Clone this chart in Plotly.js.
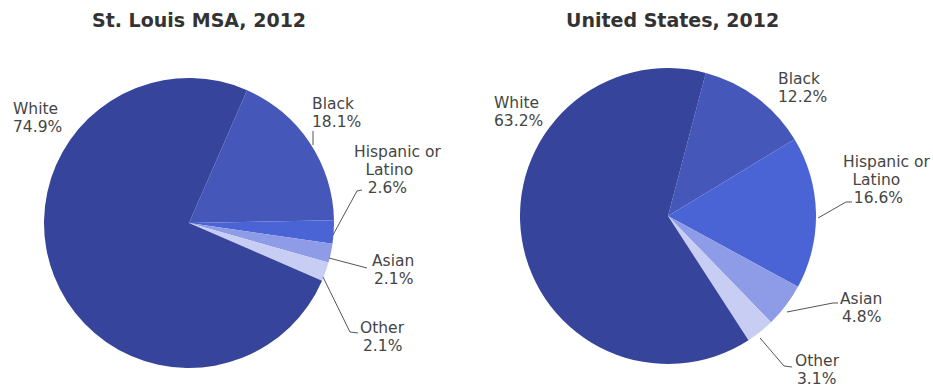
<!DOCTYPE html>
<html><head><meta charset="utf-8">
<script src="https://cdn.plot.ly/plotly-3.0.1.min.js"></script>
<style>html,body{margin:0;padding:0;background:#fff}</style>
</head><body><div id="chart" style="width:933px;height:389px"></div>
<script>
// ---- data ----
const categories = ['White', 'Black', 'Hispanic or Latino', 'Asian', 'Other'];
const stlValues = [74.9, 18.1, 2.6, 2.1, 2.1];
const usValues = [63.2, 12.2, 16.6, 4.8, 3.1];
const chartTitles = ['St. Louis MSA, 2012', 'United States, 2012'];

// ---- style / layout ----
const W = 933, H = 389;
const FONT_PX = 15.5;
const LINE_GAP = 18.1;     // px between label lines (tight leading)
const REF_GAP = 16;        // leading of the original labels
const sliceColors = ['#36459b', '#4557b9', '#4b64d5', '#8e9be6', '#c8cdf4'];
const drawOrder = [1, 2, 3, 4, 0]; // Black first, clockwise, White last
const pies = [
  {cx: 189, cy: 223, r: 145, rotation: 23.6, titleX: 199, values: stlValues},
  {cx: 668, cy: 216, r: 148, rotation: 14.8, titleX: 672, values: usValues}
];
// label placement per pie, per category (pixel x of each line, cap-top of first line)
const labelPos = [
  [ {xs: [12, 12], anchor: 'left', top: 103},
    {xs: [311, 311], anchor: 'left', top: 98},
    {xs: [397, 389, 387], anchor: 'center', top: 147},
    {xs: [371, 373], anchor: 'left', top: 255},
    {xs: [359, 362], anchor: 'left', top: 322} ],
  [ {xs: [493, 493], anchor: 'left', top: 97},
    {xs: [777, 777], anchor: 'left', top: 73},
    {xs: [886, 876, 878], anchor: 'center', top: 157},
    {xs: [839, 841], anchor: 'left', top: 293},
    {xs: [794, 796], anchor: 'left', top: 355} ]
];
const leaderPaths = [
  'M313,131 L313,145',
  'M362,190 L357,191 L333,235',
  'M329,258 L367,268',
  'M323,277 L350,332 L358,333',
  'M852,202 L846,202 L818,218',
  'M787,312 L833,303 L838,303',
  'M760,338 L784,366 L792,367'
];

const px = x => x / W;
const py = y => 1 - y / H;

function labelLines(name, value) {
  const nameLines = name === 'Hispanic or Latino' ? ['Hispanic or', 'Latino'] : [name];
  return nameLines.concat([value.toFixed(1) + '%']);
}

const traces = pies.map(p => ({
  type: 'pie',
  labels: drawOrder.map(i => categories[i]),
  values: drawOrder.map(i => p.values[i]),
  marker: {colors: drawOrder.map(i => sliceColors[i]), line: {width: 0}},
  sort: false,
  direction: 'clockwise',
  rotation: p.rotation,
  textinfo: 'none',
  hoverinfo: 'label+percent',
  showlegend: false,
  domain: {
    x: [px(p.cx - p.r), px(p.cx + p.r)],
    y: [py(p.cy + p.r), py(p.cy - p.r)]
  }
}));

const annotations = [];
const lineTweaks = []; // per annotation: x offsets of the lines of a label
const labelFont = {family: 'DejaVu Sans', size: FONT_PX, color: '#454545'};
pies.forEach((p, pi) => {
  annotations.push({
    text: '<b>' + chartTitles[pi] + '</b>',
    xref: 'paper', yref: 'paper', x: px(p.titleX), y: py(8),
    xanchor: 'center', yanchor: 'top', showarrow: false, borderpad: 0,
    font: {family: 'DejaVu Sans', size: 19, color: '#333333'}
  });
  lineTweaks.push(null);
  categories.forEach((c, ci) => {
    const pos = labelPos[pi][ci];
    const lines = labelLines(c, p.values[ci]);
    const centerShift = (LINE_GAP - REF_GAP) * (lines.length - 1) / 2;
    annotations.push({
      text: lines.join('<br>'), xref: 'paper', yref: 'paper',
      x: px(pos.xs[0]), y: py(pos.top - 3 - centerShift),
      xanchor: pos.anchor, yanchor: 'top', align: pos.anchor,
      showarrow: false, borderpad: 0, font: labelFont
    });
    lineTweaks.push({xs: pos.xs});
  });
});

function toPaperPath(d) {
  return d.replace(/(-?\d+(?:\.\d+)?),(-?\d+(?:\.\d+)?)/g,
    (m, x, y) => px(+x).toFixed(5) + ',' + py(+y).toFixed(5));
}
const shapes = leaderPaths.map(d => ({
  type: 'path', xref: 'paper', yref: 'paper', path: toPaperPath(d),
  line: {color: '#555555', width: 1}
}));

const layout = {
  width: W, height: H,
  margin: {l: 0, r: 0, t: 0, b: 0},
  paper_bgcolor: '#ffffff',
  showlegend: false,
  annotations: annotations,
  shapes: shapes
};

Plotly.newPlot('chart', traces, layout, {displayModeBar: false, staticPlot: true}).then(gd => {
  // tighten the leading of the multi-line labels and nudge individual lines
  gd.querySelectorAll('g.annotation').forEach(g => {
    const idx = +g.getAttribute('data-index');
    const tw = lineTweaks[idx];
    if (!tw) return;
    g.querySelectorAll('text.annotation-text tspan.line').forEach((t, li) => {
      t.setAttribute('dy', (li * LINE_GAP / FONT_PX) + 'em');
      const shift = (tw.xs[li] !== undefined ? tw.xs[li] : tw.xs[0]) - tw.xs[0];
      if (shift) t.setAttribute('dx', shift);
    });
  });
});
</script></body></html>
